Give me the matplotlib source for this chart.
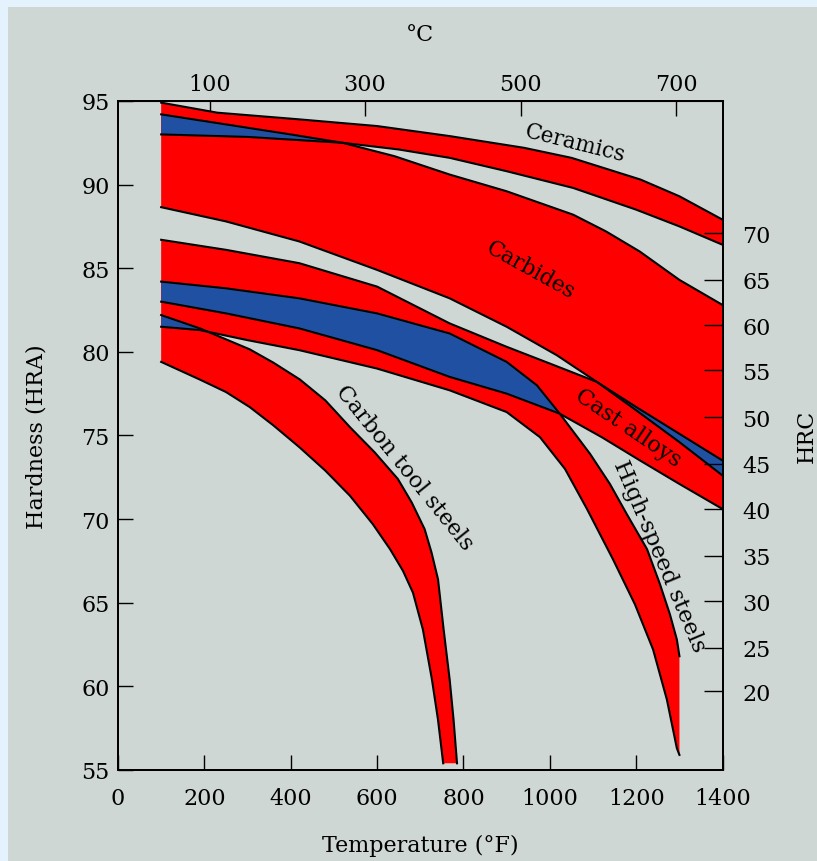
import numpy as np
import matplotlib
matplotlib.use("Agg")
import matplotlib.pyplot as plt
from matplotlib.patches import Polygon, Rectangle

plt.rcParams['font.family'] = ['DejaVu Serif', 'Liberation Serif']

# band outlines: temperature (F) vs hardness (HRA)
ceramics_top_x = [100, 230, 420, 600, 768, 940, 1050, 1210, 1300, 1400]
ceramics_top_y = [94.9, 94.3, 93.9, 93.5, 92.9, 92.2, 91.6, 90.3, 89.3, 87.9]
ceramics_bot_x = [100, 300, 520, 650, 768, 900, 1054, 1200, 1300, 1400]
ceramics_bot_y = [93.0, 92.85, 92.5, 92.1, 91.6, 90.8, 89.8, 88.5, 87.5, 86.4]

carbides_top_x = [100, 200, 300, 400, 520, 640, 768, 900, 1054, 1130, 1208, 1300, 1400]
carbides_top_y = [94.2, 93.8, 93.4, 93.0, 92.5, 91.7, 90.6, 89.6, 88.2, 87.2, 86.0, 84.3, 82.8]
carbides_bot_x = [100, 250, 420, 600, 768, 900, 1016, 1109, 1200, 1300, 1400]
carbides_bot_y = [88.65, 87.8, 86.6, 84.9, 83.2, 81.5, 79.8, 78.2, 76.5, 74.6, 72.6]

cast_top_x = [100, 250, 420, 600, 768, 900, 1000, 1109, 1200, 1300, 1400]
cast_top_y = [86.7, 86.1, 85.3, 83.9, 81.7, 80.3, 79.3, 78.2, 76.7, 75.1, 73.5]
cast_bot_x = [100, 250, 420, 600, 768, 900, 1023, 1120, 1209, 1300, 1400]
cast_bot_y = [83.0, 82.3, 81.4, 80.1, 78.5, 77.5, 76.3, 74.9, 73.5, 72.1, 70.6]

hss_top_x = [100, 250, 420, 600, 768, 900, 970, 1023, 1093, 1139, 1178,
             1225, 1255, 1278, 1294, 1300]
hss_top_y = [84.2, 83.8, 83.2, 82.3, 81.1, 79.4, 78.0, 76.3, 73.9, 72.1, 70.3,
             68.2, 66.1, 64.3, 62.8, 61.8]
hss_bot_x = [100, 190, 300, 420, 600, 768, 900, 977, 1035, 1086, 1146, 1197,
             1239, 1271, 1294, 1300]
hss_bot_y = [81.5, 81.3, 80.7, 80.1, 79.0, 77.7, 76.4, 74.9, 73.0, 70.6, 67.6,
             64.9, 62.2, 59.2, 56.3, 55.9]

carbon_top_x = [100, 190, 305, 360, 421, 480, 537, 594, 648, 680, 710, 726,
                741, 754, 768, 777, 785]
carbon_top_y = [82.2, 81.4, 80.15, 79.35, 78.35, 77.1, 75.5, 74.0, 72.4, 71.0,
                69.4, 68.0, 66.4, 63.4, 60.4, 58.0, 55.4]
carbon_bot_x = [100, 189, 250, 305, 360, 420, 480, 537, 590, 630, 660, 683,
                706, 727, 741, 753]
carbon_bot_y = [79.4, 78.35, 77.6, 76.7, 75.6, 74.3, 72.9, 71.4, 69.7, 68.2,
                66.9, 65.6, 63.4, 60.4, 58.0, 55.4]

# HRC scale on the right, placed at the HRA value it matches
hrc_labels = ['70', '65', '60', '55', '50', '45', '40', '35', '30', '25', '20']
hrc_at_hra = [87.1, 84.3, 81.6, 78.9, 76.1, 73.3, 70.6, 67.8, 65.1, 62.3, 59.7]

celsius_ticks = [100, 300, 500, 700]

labels = {
    'Ceramics': (1058, 92.5, -14, 15.5),
    'Carbides': (955, 84.9, -29, 15.5),
    'Cast alloys': (1181, 75.5, -34, 16),
    'Carbon tool steels': (664, 73.1, -51, 16),
    'High-speed steels': (1253, 67.8, -67, 16.5),
}

RED = '#ff0000'
BLUE = '#2050a2'
BG = '#cfd7d4'


def outline(tx, ty, bx, by):
    xs = np.r_[tx, bx[::-1]]
    ys = np.r_[ty, by[::-1]]
    return np.column_stack([xs, ys])


fig = plt.figure(figsize=(8.17, 8.62), dpi=100)
fig.patch.set_facecolor('#e4f2fd')
fig.add_artist(Rectangle((0.0098, 0), 0.9902, 0.9907, transform=fig.transFigure,
                         facecolor=BG, edgecolor='none', zorder=0))

ax = fig.add_axes([0.1444, 0.1056, 0.7401, 0.7761])
ax.set_facecolor(BG)
ax.set_xlim(0, 1400)
ax.set_ylim(55, 95)

bands = {
    'ceramics': (ceramics_top_x, ceramics_top_y, ceramics_bot_x, ceramics_bot_y),
    'carbides': (carbides_top_x, carbides_top_y, carbides_bot_x, carbides_bot_y),
    'cast': (cast_top_x, cast_top_y, cast_bot_x, cast_bot_y),
    'hss': (hss_top_x, hss_top_y, hss_bot_x, hss_bot_y),
    'carbon': (carbon_top_x, carbon_top_y, carbon_bot_x, carbon_bot_y),
}

patches = {}
for name, (tx, ty, bx, by) in bands.items():
    p = Polygon(outline(tx, ty, bx, by), closed=True, facecolor=RED,
                edgecolor='none', zorder=2)
    ax.add_patch(p)
    patches[name] = p

# overlapping ranges are shown in blue
for a, b in [('ceramics', 'carbides'), ('carbides', 'cast'),
             ('cast', 'hss'), ('hss', 'carbon')]:
    tx, ty, bx, by = bands[b]
    q = Polygon(outline(tx, ty, bx, by), closed=True, facecolor=BLUE,
                edgecolor='none', zorder=3)
    ax.add_patch(q)
    q.set_clip_path(patches[a])

for name, (tx, ty, bx, by) in bands.items():
    ax.plot(tx, ty, color='black', lw=1.5, zorder=4, solid_joinstyle='round')
    ax.plot(bx, by, color='black', lw=1.5, zorder=4, solid_joinstyle='round')

for text, (x, y, rot, size) in labels.items():
    ax.text(x, y, text, rotation=rot, rotation_mode='anchor', ha='center',
            va='center', fontsize=size, zorder=5)

ax.set_xticks(range(0, 1401, 200))
ax.set_yticks(range(55, 96, 5))
ax.tick_params(direction='in', length=11, width=1, labelsize=16, pad=6,
               right=False)
ax.tick_params(axis='x', pad=12)
ax.set_xlabel('Temperature (°F)', fontsize=16, labelpad=18)
ax.set_ylabel('Hardness (HRA)', fontsize=16, labelpad=24)
for s in ax.spines.values():
    s.set_linewidth(1.3)
    s.set_zorder(6)

top = ax.secondary_xaxis('top', functions=(lambda f: (f - 32) / 1.8,
                                            lambda c: c * 1.8 + 32))
top.set_xticks(celsius_ticks)
top.tick_params(direction='in', length=11, width=1, labelsize=16, pad=4)
top.set_xlabel('°C', fontsize=16, labelpad=24)

right = ax.twinx()
right.set_ylim(55, 95)
right.set_yticks(hrc_at_hra)
right.set_yticklabels(hrc_labels)
right.tick_params(direction='in', length=14, width=1, labelsize=16, pad=14)
right.set_ylabel('HRC', fontsize=16, labelpad=18)
for s in right.spines.values():
    s.set_linewidth(1.3)

fig.savefig('out.png', dpi=100, facecolor=fig.get_facecolor())
